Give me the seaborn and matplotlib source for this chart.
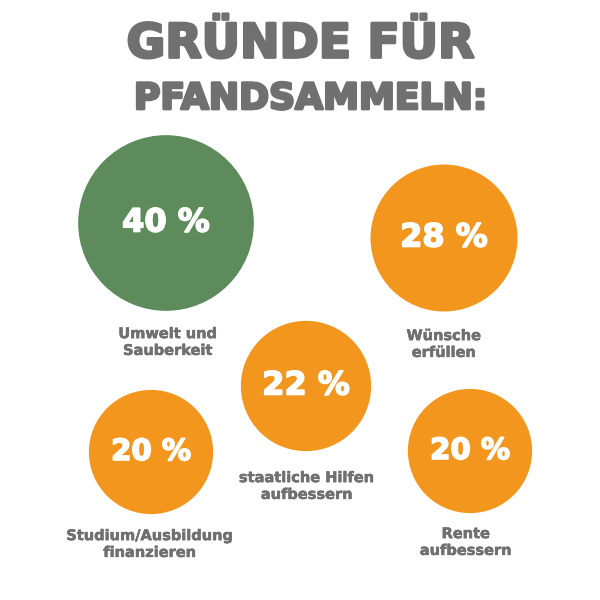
import matplotlib
matplotlib.use("Agg")
import matplotlib.pyplot as plt
import matplotlib.patheffects as pe
import seaborn as sns

# data
reasons = ["Umwelt und\nSauberkeit", "Wünsche\nerfüllen", "staatliche Hilfen\naufbessern",
           "Studium/Ausbildung\nfinanzieren", "Rente\naufbessern"]
shares = [40, 28, 22, 20, 20]
group = ["top", "other", "other", "other", "other"]

# layout (pixel coords of the 600x600 canvas)
bubble_x = [166, 444, 306, 151, 470]
bubble_y = [223, 238, 386, 452, 451]
label_x = [168, 444, 307, 150, 466]
label_y = [342, 344, 486, 544, 542]

sns.set_theme(style="white")
plt.rcParams["font.family"] = ["DejaVu Sans"]

GREEN = "#5d8b5b"
ORANGE = "#f2961e"
GREY = "#707070"

fig = plt.figure(figsize=(6, 6), dpi=100)
ax = fig.add_axes([0, 0, 1, 1])

sns.scatterplot(x=bubble_x, y=bubble_y, size=shares, size_norm=(0, 40), sizes=(0, 16000),
                hue=group, palette={"top": GREEN, "other": ORANGE},
                linewidth=0, legend=False, ax=ax)

for i, v in enumerate(shares):
    fs = 23 if v > 20 else 21
    ax.text(bubble_x[i], bubble_y[i], f"{v} %", color="white", fontsize=fs,
            fontweight="bold", ha="center", va="center",
            path_effects=[pe.withStroke(linewidth=1.2, foreground="white")])
    ax.text(label_x[i], label_y[i], reasons[i], color=GREY, fontsize=10.5,
            fontweight="bold", ha="center", va="center", linespacing=1.15,
            path_effects=[pe.withStroke(linewidth=0.4, foreground=GREY)])

title_fx = [pe.withStroke(linewidth=2, foreground=GREY)]
ax.text(301, 45, "GRÜNDE FÜR", color=GREY, fontsize=34, fontweight="bold",
        ha="center", va="center", path_effects=title_fx)
ax.text(311, 99, "PFANDSAMMELN:", color=GREY, fontsize=26, fontweight="bold",
        ha="center", va="center", path_effects=title_fx)

ax.set_xlim(0, 600)
ax.set_ylim(600, 0)
ax.axis("off")

fig.savefig("out.png", dpi=100, facecolor="white")
